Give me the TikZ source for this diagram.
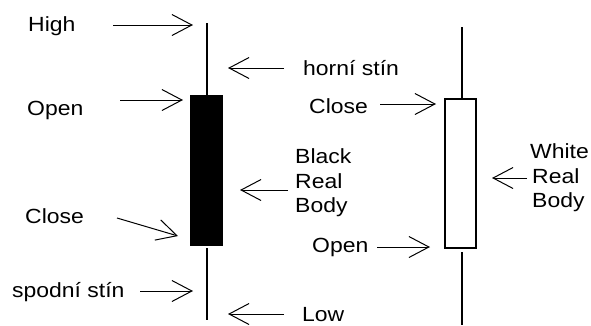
\documentclass[tikz,border=0pt]{standalone}
\usepackage{fontspec}
\setmainfont{Liberation Sans}[FakeStretch=1.12]
\usetikzlibrary{arrows.meta}
\begin{document}
\begin{tikzpicture}[x=1pt,y=-1pt,
  lbl/.style={inner sep=0pt,anchor=base west,font=\fontsize{20.5}{25}\selectfont},
  pointer/.style={line width=1pt,-{Straight Barb[length=20pt,width=21pt,line width=1pt]}},
  wick/.style={line width=1.5pt},
  blackbody/.style={fill=black,draw=black,line width=1pt},
  whitebody/.style={fill=white,draw=black,line width=1.2pt}]
\useasboundingbox (0,0) rectangle (591,325);

% black candle
\fill[blackbody] (190,95) rectangle (222,245);
\coordinate (bTop) at (207,23);
\coordinate (bBodyTop) at (207,95);
\coordinate (bBodyBot) at (207,248);
\coordinate (bLow) at (207,320);
\draw[wick] (bTop) -- (bBodyTop);
\draw[wick] (bBodyBot) -- (bLow);

% white candle
\draw[whitebody] (445,99) rectangle (476,248);
\coordinate (wTop) at (462,27);
\coordinate (wBodyTop) at (462,99);
\coordinate (wBodyBot) at (462,252);
\coordinate (wLow) at (462,325);
\draw[wick] (wTop) -- (wBodyTop);
\draw[wick] (wBodyBot) -- (wLow);

% labels
\node[lbl] (high) at (28,31) {High};
\node[lbl] (upper) at (303,75) {horní stín};
\node[lbl] (openL) at (27,115) {Open};
\node[lbl] (closeL) at (25,223) {Close};
\node[lbl] (blackA) at (295,163) {Black};
\node[lbl] (blackB) at (295,188) {Real};
\node[lbl] (blackC) at (295,212) {Body};
\node[lbl] (lower) at (12,297) {spodní stín};
\node[lbl] (low) at (302,321) {Low};
\node[lbl] (closeR) at (309,113) {Close};
\node[lbl] (openR) at (312,252) {Open};
\node[lbl] (whiteA) at (530,158) {White};
\node[lbl] (whiteB) at (532,183) {Real};
\node[lbl] (whiteC) at (532,207) {Body};

% arrow ends
\coordinate (t1) at (113,25);  \coordinate (h1) at (193,25);
\coordinate (t2) at (284,68);  \coordinate (h2) at (228,68);
\coordinate (t3) at (120,100); \coordinate (h3) at (183,100);
\coordinate (t4) at (117,218); \coordinate (h4) at (178,236);
\coordinate (t5) at (288,190); \coordinate (h5) at (240,190);
\coordinate (t6) at (140,291); \coordinate (h6) at (193,291);
\coordinate (t7) at (284,314); \coordinate (h7) at (228,314);
\coordinate (t8) at (380,104); \coordinate (h8) at (436,104);
\coordinate (t9) at (377,247); \coordinate (h9) at (430,247);
\coordinate (t10) at (527,178); \coordinate (h10) at (492,178);

\foreach \i in {1,...,10} \draw[pointer] (t\i) -- (h\i);
\end{tikzpicture}
\end{document}
